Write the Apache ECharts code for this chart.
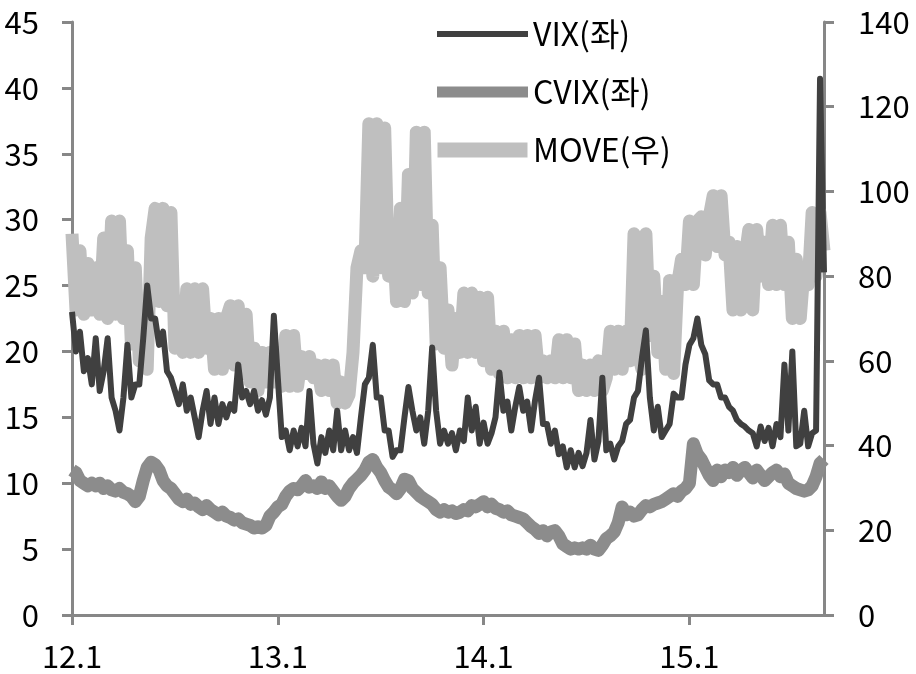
<!DOCTYPE html>
<html><head><meta charset="utf-8">
<script src="https://cdn.jsdelivr.net/npm/echarts@6/dist/echarts.min.js"></script>
<style>html,body{margin:0;padding:0;background:#fff}#c{width:916px;height:674px}</style>
</head><body><div id="c"></div><script>
// weekly observations, first week starting 2012-01-02
const startDate = '2012-01-02';
const tickIndex = [0, 52, 104, 156];
const tickLabels = ['12.1', '13.1', '14.1', '15.1'];
const seriesNames = ['VIX(좌)', 'CVIX(좌)', 'MOVE(우)'];

const VIX = [
23, 20, 21.5, 18.5, 19.5, 17.5, 21, 17, 18.5, 21,
16.5, 15.5, 14, 16.5, 20.5, 16.5, 17.5, 17.5, 21, 25,
22.5, 22.5, 20.5, 21.5, 18.5, 18, 17, 16, 17.5, 15.5,
16.5, 15, 13.5, 15.5, 17, 14.5, 16.5, 14.5, 16, 15,
16, 15.5, 19, 16.5, 17, 16, 17, 15.5, 16.3, 15.2,
16.5, 22.7, 18, 13.5, 14, 12.5, 14, 12.8, 14.2, 12.8,
17, 13, 11.5, 13.5, 12.3, 14, 12.5, 15.5, 12.5, 14,
12.5, 13.5, 12.3, 15, 17.5, 18, 20.5, 16.5, 16.5, 14,
14, 12, 12.5, 12.5, 15, 17.3, 15.5, 14, 15, 13,
15.5, 20.3, 15.5, 13, 14, 13, 13.8, 12.5, 14, 13.2,
16.5, 14, 15.8, 13, 14.6, 13, 13.8, 15, 18.4, 15.5,
16.2, 14, 15.8, 17.3, 15.5, 16.2, 14, 16.3, 18, 14.5,
14.5, 13, 14, 12.2, 12.8, 11.2, 12.5, 11.2, 12.3, 11.3,
12.3, 14.8, 11.8, 13.2, 18, 12.5, 13, 11.8, 12.8, 13.2,
14.5, 14.8, 16.5, 17, 19.5, 21.6, 16.5, 14, 15.8, 13.5,
14, 14.5, 16.8, 16.5, 16.5, 19, 20.5, 21, 22.5, 20.5,
19.8, 17.8, 17.5, 17.5, 16.5, 16.5, 15.8, 15.5, 14.8, 14.5,
14.3, 14, 13.8, 12.8, 14.3, 13.2, 14.2, 12.8, 14.5, 13.5,
19, 14, 20, 12.8, 13, 15.5, 12.8, 13.8, 14, 40.7,
26
];

const CVIX = [
11.0, 10.8, 10.2, 10.0, 9.8, 10.0, 9.8, 10.0, 9.6, 9.8,
9.5, 9.4, 9.6, 9.3, 9.2, 9.0, 8.6, 9.0, 10.2, 11.2,
11.6, 11.4, 11.0, 10.2, 9.8, 9.6, 9.2, 8.8, 8.6, 8.8,
8.4, 8.5, 8.2, 8.0, 8.3, 8.0, 7.8, 7.6, 7.8, 7.5,
7.4, 7.2, 7.3, 7.0, 6.9, 6.8, 6.6, 6.7, 6.6, 6.8,
7.5, 7.8, 8.2, 8.4, 9.0, 9.4, 9.6, 9.5, 9.8, 10.2,
9.7, 9.8, 9.6, 10.1, 9.6, 9.8, 9.4, 9.0, 8.7, 9.0,
9.6, 10.0, 10.3, 10.6, 11.0, 11.6, 11.8, 11.2, 10.8, 10.2,
9.7, 9.5, 9.2, 9.6, 10.3, 10.2, 9.6, 9.3, 9.0, 8.8,
8.6, 8.4, 8.0, 7.8, 8.0, 7.8, 7.9, 7.7, 7.8, 8.0,
7.9, 8.3, 8.2, 8.4, 8.6, 8.2, 8.4, 8.1, 8.0, 7.8,
7.9, 7.6, 7.5, 7.4, 7.3, 7.0, 6.7, 6.5, 6.2, 6.4,
6.0, 6.3, 6.4, 6.0, 5.4, 5.2, 5.0, 5.1, 5.0, 5.1,
5.0, 5.3, 5.0, 4.9, 5.3, 5.8, 6.0, 6.3, 7.0, 8.2,
7.6, 7.8, 7.5, 7.6, 8.0, 8.3, 8.2, 8.4, 8.5, 8.6,
8.8, 9.0, 9.2, 9.0, 9.4, 9.6, 10.0, 13.0, 12.2, 11.8,
11.2, 10.6, 10.2, 11.0, 10.5, 11.0, 10.8, 11.2, 10.6, 11.0,
11.2, 10.8, 10.4, 11.0, 10.6, 10.2, 10.5, 10.8, 11.0, 10.5,
10.7, 10.0, 9.8, 9.6, 9.5, 9.4, 9.5, 9.8, 10.5, 11.5,
11.8
];

const MOVE = [
90, 72, 86, 71, 83, 72, 82, 71, 89, 70,
93, 71, 93, 70, 86, 64, 82, 60, 72, 58,
89, 96, 74, 96, 73, 95, 63, 73, 62, 77,
62, 77, 62, 77, 63, 70, 58, 70, 58, 70,
73, 59, 73, 57, 71, 55, 63, 53, 62, 55,
62, 55, 62, 54, 66, 54, 66, 54, 61, 57,
61, 56, 59, 53, 59, 53, 59, 50, 55, 50,
52, 62, 82, 86, 82, 116, 80, 116, 82, 115,
80, 92, 74, 96, 74, 104, 76, 114, 78, 114,
76, 92, 64, 82, 63, 72, 59, 70, 62, 76,
62, 76, 62, 75, 60, 75, 58, 67, 57, 67,
56, 65, 56, 66, 56, 66, 56, 66, 56, 60,
56, 60, 56, 65, 56, 65, 56, 64, 53, 59,
53, 59, 53, 60, 53, 56, 67, 58, 67, 58,
67, 60, 90, 62, 58, 90, 66, 80, 62, 74,
58, 79, 57, 78, 84, 78, 93, 78, 93, 94,
85, 94, 99, 87, 99, 85, 88, 72, 87, 72,
84, 91, 72, 91, 80, 88, 78, 92, 78, 92,
78, 88, 70, 84, 70, 82, 78, 95, 80, 95,
86
];

const categories = [];
{
  let t = new Date(startDate + 'T00:00:00Z').getTime();
  for (let i = 0; i < VIX.length; i++) {
    categories.push(new Date(t).toISOString().slice(0, 10));
    t += 7 * 86400000;
  }
}

const FONT = 'Noto Sans CJK KR';
const AXIS_COLOR = '#878787';
const isTick = (idx) => tickIndex.indexOf(idx) >= 0;

const chart = echarts.init(document.getElementById('c'), null, {renderer: 'canvas'});
chart.setOption({
  animation: false,
  backgroundColor: '#ffffff',
  textStyle: {fontFamily: FONT},
  grid: {left: 72, right: 92, top: 22, bottom: 59, containLabel: false},
  legend: {
    orient: 'vertical',
    left: 437,
    top: 16,
    padding: 0,
    itemWidth: 91,
    itemHeight: 15,
    itemGap: 22,
    textStyle: {fontFamily: FONT, fontSize: 32, color: '#000', lineHeight: 36},
    data: [
      {name: seriesNames[0], icon: 'path://M0,0H90V6H0Z'},
      {name: seriesNames[1], icon: 'path://M0,0H90V11H0Z'},
      {name: seriesNames[2], icon: 'path://M0,0H90V15H0Z'}
    ]
  },
  xAxis: {
    type: 'category',
    data: categories,
    boundaryGap: false,
    axisLine: {show: true, lineStyle: {color: AXIS_COLOR, width: 3}},
    axisTick: {show: true, interval: isTick, length: 10, lineStyle: {color: AXIS_COLOR, width: 3}},
    axisLabel: {
      interval: isTick,
      margin: 26,
      fontFamily: FONT, fontSize: 31, color: '#000',
      formatter: (v, idx) => { const k = tickIndex.indexOf(idx); return k >= 0 ? tickLabels[k] : ''; }
    },
    splitLine: {show: false}
  },
  yAxis: [
    {
      type: 'value', min: 0, max: 45, interval: 5, position: 'left',
      axisLine: {show: true, lineStyle: {color: AXIS_COLOR, width: 3}},
      axisTick: {show: true, length: 10, lineStyle: {color: AXIS_COLOR, width: 3}},
      axisLabel: {margin: 33, fontFamily: FONT, fontSize: 31, color: '#000'},
      splitLine: {show: false}
    },
    {
      type: 'value', min: 0, max: 140, interval: 20, position: 'right',
      axisLine: {show: true, lineStyle: {color: AXIS_COLOR, width: 3}},
      axisTick: {show: true, length: 10, lineStyle: {color: AXIS_COLOR, width: 3}},
      axisLabel: {margin: 34, fontFamily: FONT, fontSize: 31, color: '#000'},
      splitLine: {show: false}
    }
  ],
  series: [
    {
      name: seriesNames[0], type: 'line', yAxisIndex: 0, data: VIX,
      symbol: 'none', showSymbol: false, z: 5,
      itemStyle: {color: '#404040'},
      lineStyle: {color: '#404040', width: 6, join: 'round'}
    },
    {
      name: seriesNames[1], type: 'line', yAxisIndex: 0, data: CVIX,
      symbol: 'none', showSymbol: false, z: 4,
      itemStyle: {color: '#8c8c8c'},
      lineStyle: {color: '#8c8c8c', width: 13, join: 'round'}
    },
    {
      name: seriesNames[2], type: 'line', yAxisIndex: 1, data: MOVE,
      symbol: 'none', showSymbol: false, z: 3,
      itemStyle: {color: '#bfbfbf'},
      lineStyle: {color: '#bfbfbf', width: 13, join: 'round'}
    }
  ]
});
</script></body></html>
